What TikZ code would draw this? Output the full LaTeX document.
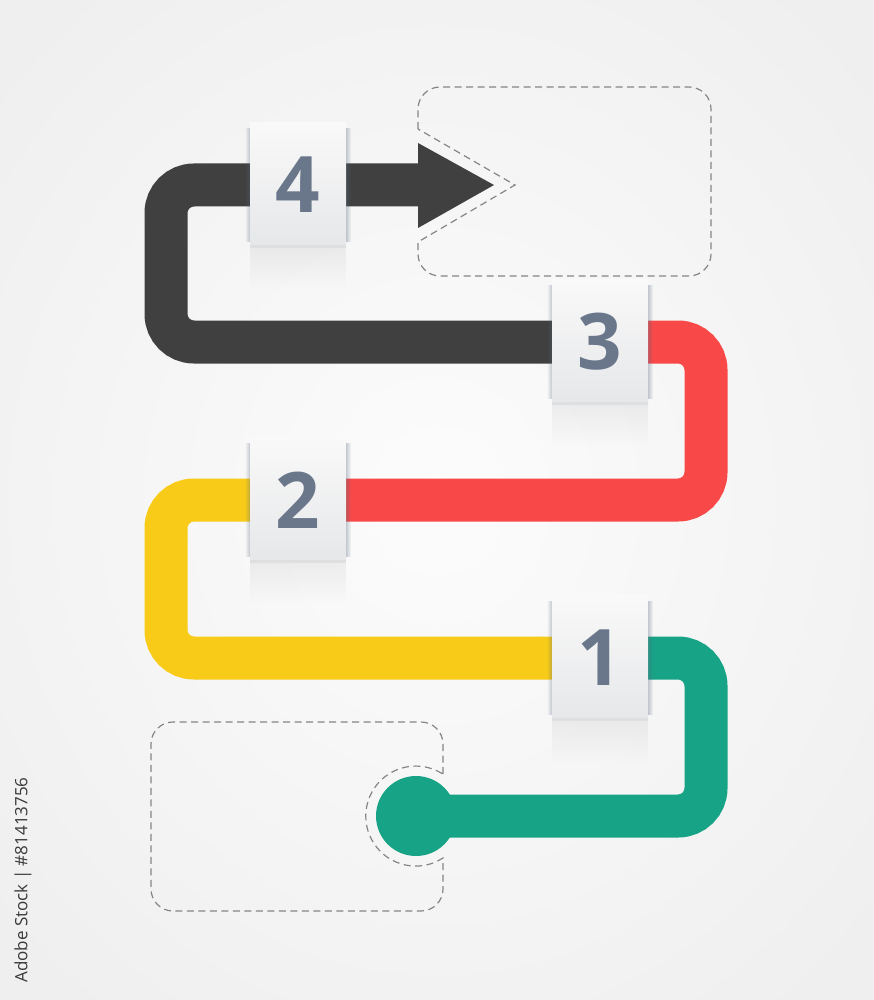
\documentclass[tikz,border=0pt]{standalone}
\usepackage{fontspec}
\setmainfont{Open Sans}
\usetikzlibrary{fadings}
\definecolor{bgc}{HTML}{EFEFEF}
\definecolor{bgin}{HTML}{FCFCFC}
\definecolor{darkband}{HTML}{404040}
\definecolor{redband}{HTML}{F94848}
\definecolor{yelband}{HTML}{F7CB17}
\definecolor{grnband}{HTML}{17A386}
\definecolor{numc}{HTML}{6A778A}
\definecolor{dashc}{HTML}{858585}
\definecolor{wmc}{HTML}{3A3A3A}
\definecolor{shadc}{HTML}{56657E}
\definecolor{tagtop}{HTML}{F9F9F9}
\definecolor{tagbot}{HTML}{E6E7E9}
\begin{document}
\begin{tikzpicture}[x=1pt,y=-1pt,
  band/.style={line width=43pt, rounded corners=28pt, line cap=butt},
  dashbox/.style={draw=dashc, line width=1.2pt, dash pattern=on 7pt off 4.5pt},
  tag/.style={minimum width=96pt, minimum height=125pt, inner sep=0pt,
    top color=tagtop, bottom color=tagbot, text=numc,
    font=\fontsize{78}{80}\selectfont\bfseries},
  sideshade/.style={fill=shadc, opacity=0.32},
  undershade/.style={fill=black, opacity=0.05, path fading=south}]
\useasboundingbox (0,0) rectangle (873,1000);
\fill[inner color=bgin, outer color=bgc] (-150,-150) rectangle (1023,1150);

% dashed boxes
\draw[dashbox] (418,129) [rounded corners=22pt] -- (418,87) -- (711,87) -- (711,276) -- (418,276) [sharp corners] -- (418,242) -- (515,185) -- (418,129);
\draw[dashbox] (443,774) [rounded corners=22pt] -- (443,722) -- (151,722) -- (151,911) -- (443,911) [sharp corners] -- (443,858)
  arc[start angle=303, end angle=57, radius=50pt];

% coordinates of corners and ends
\coordinate (abase) at (419,185);
\coordinate (atip) at (494,185);
\coordinate (dot) at (416,816);

% label tag positions
\path (298,185) coordinate (p4) (600,342) coordinate (p3) (298,500) coordinate (p2) (600,658) coordinate (p1);

% bands
\draw[band, darkband] (abase) -- (166,185) -- (166,342) -- (p3);
\fill[darkband] (418,143) -- (atip) -- (418,228) -- cycle;
\draw[band, redband] (p3) -- (706,342) -- (706,500) -- (p2);
\draw[band, yelband] (p2) -- (166,500) -- (166,658) -- (p1);
\draw[band, grnband] (p1) -- (706,658) -- (706,816) -- (dot);
\fill[grnband] (dot) circle[radius=40pt];

% tags
\foreach \n in {4,3,2,1}{
  \node[tag] (t\n) at (p\n) {\n};
  \fill[sideshade, path fading=east] ([yshift=-6pt]t\n.north east) rectangle ([xshift=5pt,yshift=6pt]t\n.south east);
  \fill[sideshade, path fading=west] ([xshift=-5pt,yshift=-6pt]t\n.north west) rectangle ([yshift=6pt]t\n.south west);
  \fill[undershade] (t\n.south west) rectangle ([yshift=-42pt]t\n.south east);
  \fill[black, opacity=0.03] ([yshift=3pt]t\n.south west) rectangle (t\n.south east);
}

% vertical stock id
\node[rotate=90, text=wmc, font=\fontsize{17}{19}\selectfont, inner sep=0pt] (wm) at (23,880) {Adobe Stock | \#81413756};
\end{tikzpicture}
\end{document}
